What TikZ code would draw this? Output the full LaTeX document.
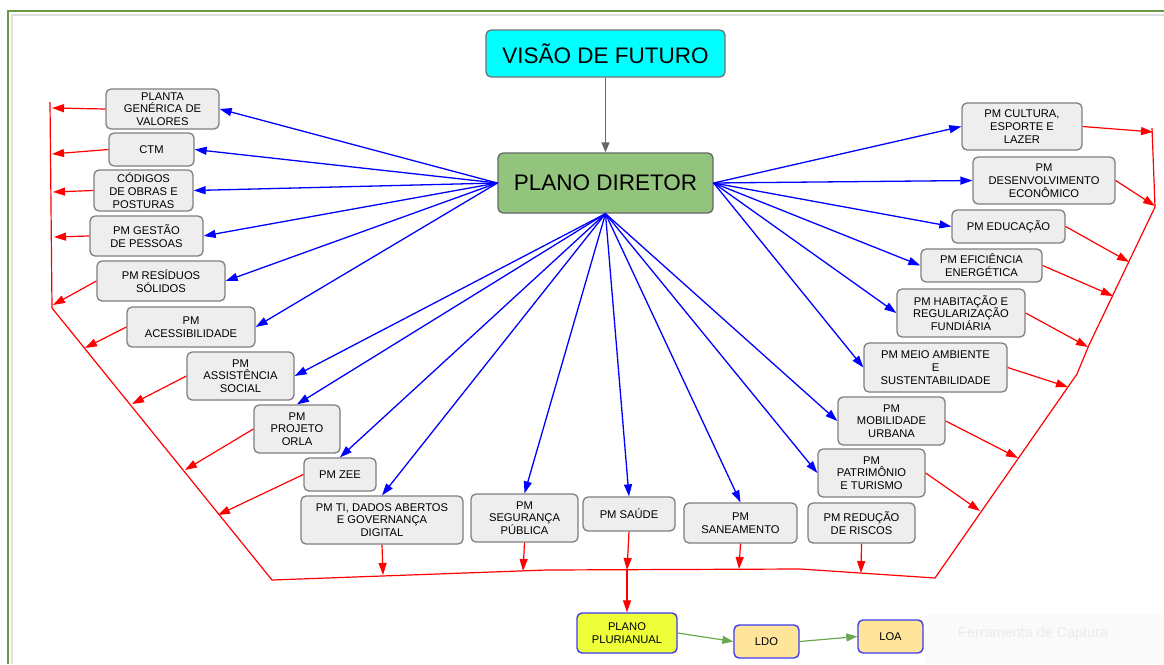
\documentclass[tikz,border=0pt]{standalone}
\usepackage{fontspec}
\setmainfont{Liberation Sans}
\usetikzlibrary{arrows.meta}
\definecolor{boxfill}{HTML}{EEEEEE}
\definecolor{boxborder}{HTML}{7F7F7F}
\definecolor{visaofill}{HTML}{00FFFF}
\definecolor{pdfill}{HTML}{93C47D}
\definecolor{ppafill}{HTML}{EEFF3A}
\definecolor{lfill}{HTML}{FFE599}
\definecolor{lborder}{HTML}{3C3CF0}
\definecolor{frame}{HTML}{6A9948}
\definecolor{arrgreen}{HTML}{6AA84F}
\definecolor{bluearr}{HTML}{0000FF}
\definecolor{redarr}{HTML}{FF0000}
\begin{document}
\begin{tikzpicture}[x=1pt,y=-1pt,
  box/.style={draw=boxborder, fill=boxfill, rounded corners=5pt, line width=1.3pt,
    align=center, inner sep=0pt, text=black, font=\fontsize{11.2}{12.8}\selectfont},
  bigbox/.style={box, draw=boxborder!90!black, font=\fontsize{22.5}{26}\selectfont},
  lbox/.style={box, draw=lborder, line width=1.4pt},
  blu/.style={draw=bluearr, line width=1.3pt, -{Triangle[length=12pt,width=8pt]}},
  rd/.style={draw=redarr, line width=1.2pt, -{Triangle[length=12pt,width=8pt]}},
  redline/.style={draw=redarr, line width=1.2pt},
  grayarr/.style={draw=black!60, line width=1.3pt, -{Triangle[length=10pt,width=8pt]}},
  grnarr/.style={draw=arrgreen, line width=1.2pt, -{Triangle[length=11pt,width=8pt]}}
]
\useasboundingbox (0,0) rectangle (1164,664);
% frame
\draw[black!13, line width=1.5pt] (12,664) -- (12,15) -- (1164,15);
\draw[frame, line width=2pt] (8,664) -- (8,11) -- (1164,11);
% faint capture overlay
\fill[black!2] (925,615) rectangle (1164,664);
\node[text=black!8, font=\fontsize{14.4}{16}\selectfont, anchor=west, inner sep=0pt] (cap) at (958,634) {Ferramenta de Captura};

% main nodes
\node[bigbox, fill=visaofill, minimum width=239pt, minimum height=47pt] (visao) at (605.5,53.5) {VISÃO DE FUTURO};
\node[bigbox, fill=pdfill, draw=black!60, minimum width=215pt, minimum height=60pt] (pd) at (605.5,183) {PLANO DIRETOR};

% left nodes
\node[box, minimum width=113pt, minimum height=40pt] (planta) at (162.5,109) {PLANTA\\GENÉRICA DE\\VALORES};
\node[box, minimum width=85pt, minimum height=33pt] (ctm) at (151.5,149.5) {CTM};
\node[box, minimum width=99pt, minimum height=41pt] (codigos) at (143.5,190.5) {CÓDIGOS\\DE OBRAS E\\POSTURAS};
\node[box, minimum width=113pt, minimum height=40pt] (gestao) at (146.5,236) {PM GESTÃO\\DE PESSOAS};
\node[box, minimum width=128pt, minimum height=40pt] (residuos) at (161,281) {PM RESÍDUOS\\SÓLIDOS};
\node[box, minimum width=128pt, minimum height=40pt] (acess) at (191,327) {PM\\ACESSIBILIDADE};
\node[box, minimum width=107pt, minimum height=48pt] (assist) at (240.5,376) {PM\\ASSISTÊNCIA\\SOCIAL};
\node[box, minimum width=86pt, minimum height=48pt] (orla) at (297,429) {PM\\PROJETO\\ORLA};
\node[box, minimum width=72pt, minimum height=33pt] (zee) at (340,474.5) {PM ZEE};
\node[box, minimum width=162pt, minimum height=48pt] (ti) at (382,520) {PM TI, DADOS ABERTOS\\E GOVERNANÇA\\DIGITAL};

% bottom nodes
\node[box, minimum width=107pt, minimum height=48pt] (seg) at (524.5,518) {PM\\SEGURANÇA\\PÚBLICA};
\node[box, minimum width=92pt, minimum height=34pt] (saude) at (629,514) {PM SAÚDE};
\node[box, minimum width=113pt, minimum height=40pt] (san) at (740.5,523) {PM\\SANEAMENTO};
\node[box, minimum width=107pt, minimum height=40pt] (risc) at (861.5,523) {PM REDUÇÃO\\DE RISCOS};

% right nodes
\node[box, minimum width=120pt, minimum height=47pt] (cultura) at (1022,126.5) {PM CULTURA,\\ESPORTE E\\LAZER};
\node[box, minimum width=142pt, minimum height=47pt] (desenv) at (1044,180.5) {PM\\DESENVOLVIMENTO\\ECONÔMICO};
\node[box, minimum width=113pt, minimum height=33pt] (educ) at (1008.5,226.5) {PM EDUCAÇÃO};
\node[box, minimum width=121pt, minimum height=33pt] (efic) at (981.5,265.5) {PM EFICIÊNCIA\\ENERGÉTICA};
\node[box, minimum width=128pt, minimum height=48pt] (habit) at (961,313) {PM HABITAÇÃO E\\REGULARIZAÇÃO\\FUNDIÁRIA};
\node[box, minimum width=143pt, minimum height=49pt] (meio) at (935.5,367.5) {PM MEIO AMBIENTE\\E\\SUSTENTABILIDADE};
\node[box, minimum width=107pt, minimum height=48pt] (mob) at (891.5,421) {PM\\MOBILIDADE\\URBANA};
\node[box, minimum width=107pt, minimum height=48pt] (patr) at (871.5,473) {PM\\PATRIMÔNIO\\E TURISMO};

% budget nodes
\node[lbox, fill=ppafill, minimum width=100pt, minimum height=40pt] (ppa) at (627,633) {PLANO\\PLURIANUAL};
\node[lbox, fill=lfill, minimum width=65pt, minimum height=33pt] (ldo) at (766.5,641.5) {LDO};
\node[lbox, fill=lfill, minimum width=65pt, minimum height=33pt] (loa) at (890.5,636.5) {LOA};

% gray arrow
\draw[grayarr] (visao.south) -- (pd.north);

% blue arrows
\foreach \n in {planta,ctm,codigos,gestao,residuos,acess}
  \draw[blu] (pd.west) -- (\n.east);
\draw[blu] (pd.south) -- (assist.east);
\foreach \n in {orla,zee,ti,seg,saude,san}
  \draw[blu] (pd.south) -- (\n.north);
\foreach \n in {patr,mob}
  \draw[blu] (pd.south) -- (\n.west);
\foreach \n in {cultura,desenv,educ,efic,habit,meio}
  \draw[blu] (pd.east) -- (\n.west);

% red collecting line
\coordinate (L1) at (50,102);
\coordinate (L2) at (52,308);
\coordinate (B1) at (272,580);
\coordinate (B2) at (547,570);
\coordinate (B3) at (800,569);
\coordinate (B4) at (935,578);
\coordinate (R1) at (1077,374);
\coordinate (R1b) at (1089,345);
\coordinate (R2) at (1155,207);
\coordinate (R3) at (1152,128);
\draw[redline] (L1) -- (L2) -- (B1) -- (B2) -- (B3) -- (B4) -- (R1) -- (R1b) -- (R2) -- (R3);

% red arrow targets
\coordinate (tPlanta) at (52,108);
\coordinate (tCtm) at (52,154);
\coordinate (tCod) at (53,192);
\coordinate (tGest) at (54,237);
\coordinate (tRes) at (53,305);
\coordinate (tAcess) at (85,348);
\coordinate (tAssist) at (132,404);
\coordinate (tOrla) at (185,470);
\coordinate (tZee) at (218,515);
\coordinate (tTi) at (383,575);
\coordinate (tSeg) at (523,571);
\coordinate (tSaude) at (627,570);
\coordinate (tSan) at (739,569);
\coordinate (tRisc) at (861,573);
\coordinate (tPatr) at (980,511);
\coordinate (tMob) at (1018,458);
\coordinate (tMeio) at (1068,387);
\coordinate (tHabit) at (1088,347);
\coordinate (tEfic) at (1113,296);
\coordinate (tEduc) at (1129,262);
\coordinate (tDesenv) at (1155,206);
\coordinate (tCult) at (1153,132);

\draw[rd] (planta.west) -- (tPlanta);
\draw[rd] (ctm.west) -- (tCtm);
\draw[rd] (codigos.west) -- (tCod);
\draw[rd] (gestao.west) -- (tGest);
\draw[rd] (residuos.west) -- (tRes);
\draw[rd] (acess.west) -- (tAcess);
\draw[rd] (assist.west) -- (tAssist);
\draw[rd] (orla.west) -- (tOrla);
\draw[rd] (zee.west) -- (tZee);
\draw[rd] (ti.south) -- (tTi);
\draw[rd] (seg.south) -- (tSeg);
\draw[rd] (saude.south) -- (tSaude);
\draw[rd] (san.south) -- (tSan);
\draw[rd] (risc.south) -- (tRisc);
\draw[rd] (patr.east) -- (tPatr);
\draw[rd] (mob.east) -- (tMob);
\draw[rd] (meio.east) -- (tMeio);
\draw[rd] (habit.east) -- (tHabit);
\draw[rd] (efic.east) -- (tEfic);
\draw[rd] (educ.east) -- (tEduc);
\draw[rd] (desenv.east) -- (tDesenv);
\draw[rd] (cultura.east) -- (tCult);
\draw[rd] (tSaude) -- (ppa.north);

% green arrows
\draw[grnarr] (ppa.east) -- (ldo.west);
\draw[grnarr] (ldo.east) -- (loa.west);
\end{tikzpicture}
\end{document}
